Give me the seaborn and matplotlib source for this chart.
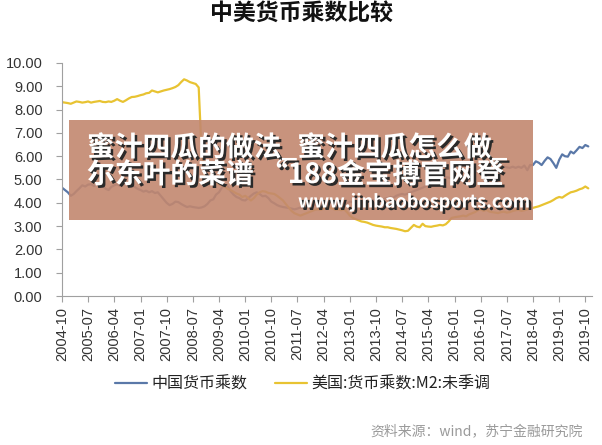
import numpy as np
import pandas as pd
import matplotlib.pyplot as plt
import seaborn as sns
from matplotlib import patheffects as pe
from matplotlib.patches import Rectangle

# monthly data, 2004-10 .. 2019-11
dates = pd.date_range('2004-10-01', periods=182, freq='MS')

china = [4.65, 4.55, 4.45, 4.30, 4.38, 4.50, 4.62, 4.75, 4.70, 4.78, 4.80, 4.72,
         4.80, 4.85, 4.75, 4.60, 4.55, 4.68, 4.75, 4.80, 4.72, 4.85, 4.78, 4.70,
         4.75, 4.68, 4.60, 4.55, 4.48, 4.52, 4.45, 4.50, 4.42, 4.45, 4.30, 4.15,
         4.00, 3.90, 3.95, 4.05, 4.03, 3.95, 3.88, 3.82, 3.85, 3.82, 3.80, 3.78,
         3.80, 3.85, 3.95, 4.10, 4.15, 4.35, 4.45, 4.65, 4.75, 4.70, 4.50, 4.35,
         4.25, 4.20, 4.12, 4.10, 4.20, 4.30, 4.40, 4.45, 4.38, 4.28, 4.30, 4.20,
         4.05, 3.98, 3.90, 3.85, 3.82, 3.80, 3.78, 3.75, 3.72, 3.75, 3.80, 3.78,
         3.85, 3.88, 3.92, 3.90, 3.95, 4.00, 4.02, 3.98, 4.05, 4.00, 3.98, 4.05,
         4.00, 3.95, 3.98, 4.05, 4.02, 4.10, 4.05, 4.00, 4.05, 4.10, 4.08, 4.12,
         4.10, 4.15, 4.12, 4.18, 4.20, 4.25, 4.22, 4.30, 4.35, 4.38, 4.35, 4.40,
         4.45, 4.50, 4.55, 4.60, 4.65, 4.70, 4.78, 4.85, 4.90, 4.95, 4.98, 5.05,
         5.10, 5.08, 5.05, 5.00, 5.05, 5.10, 5.15, 5.12, 5.18, 5.22, 5.30, 5.35,
         5.40, 5.38, 5.45, 5.50, 5.45, 5.48, 5.52, 5.50, 5.55, 5.52, 5.50, 5.55,
         5.50, 5.55, 5.50, 5.60, 5.40, 5.62, 5.62, 5.78, 5.72, 5.62, 5.80, 5.95,
         5.88, 5.70, 5.50, 5.85, 6.08, 6.00, 5.98, 6.20, 6.12, 6.25, 6.40, 6.35,
         6.48, 6.42]

usa = [8.32, 8.30, 8.28, 8.25, 8.30, 8.35, 8.33, 8.30, 8.32, 8.35, 8.30, 8.33,
       8.35, 8.37, 8.33, 8.32, 8.35, 8.33, 8.38, 8.45, 8.38, 8.33, 8.40, 8.48,
       8.54, 8.55, 8.58, 8.62, 8.65, 8.70, 8.72, 8.82, 8.78, 8.74, 8.78, 8.82,
       8.85, 8.88, 8.92, 8.97, 9.05, 9.18, 9.30, 9.25, 9.18, 9.14, 9.10, 8.95,
       6.20, 4.95, 4.85, 4.80, 4.85, 4.90, 4.80, 4.75, 4.70, 4.60, 4.55, 4.47,
       4.40, 4.35, 4.25, 4.30, 4.20, 4.10, 4.20, 4.35, 4.45, 4.50, 4.48, 4.42,
       4.40, 4.38, 4.30, 4.20, 4.10, 3.95, 3.80, 3.65, 3.55, 3.50, 3.45, 3.50,
       3.55, 3.60, 3.65, 3.70, 3.72, 3.70, 3.75, 3.78, 3.80, 3.75, 3.70, 3.72,
       3.68, 3.72, 3.60, 3.45, 3.35, 3.30, 3.25, 3.20, 3.18, 3.15, 3.10, 3.05,
       3.02, 3.00, 2.98, 2.95, 2.95, 2.92, 2.90, 2.88, 2.85, 2.82, 2.78, 2.80,
       2.92, 3.05, 2.98, 2.95, 3.10, 3.00, 2.98, 2.97, 3.00, 3.02, 3.05, 3.03,
       3.08, 3.20, 3.35, 3.38, 3.40, 3.42, 3.45, 3.42, 3.50, 3.55, 3.60, 3.68,
       3.72, 3.65, 3.70, 3.62, 3.60, 3.58, 3.56, 3.60, 3.62, 3.58, 3.60, 3.65,
       3.68, 3.70, 3.65, 3.68, 3.72, 3.75, 3.78, 3.82, 3.85, 3.90, 3.95, 4.00,
       4.05, 4.12, 4.20, 4.25, 4.22, 4.30, 4.38, 4.45, 4.48, 4.52, 4.58, 4.62,
       4.70, 4.62]

labels = ['中国货币乘数', '美国:货币乘数:M2:未季调']
colors = ['#5a78a8', '#e8c332']
xticks = pd.date_range('2004-10-01', '2019-10-01', freq='9MS')
yticks = np.arange(0, 11, 1)

sns.set_style('white')
plt.rcParams['font.family'] = ['Liberation Sans', 'Noto Sans CJK SC']

W, H = 602, 445
fig = plt.figure(figsize=(W / 100, H / 100), dpi=100)
ax = fig.add_axes([62 / W, 1 - 296 / H, (592 - 62) / W, (296 - 63) / H])

sns.lineplot(x=dates, y=china, ax=ax, color=colors[0], lw=1.6, label=labels[0])
sns.lineplot(x=dates, y=usa, ax=ax, color=colors[1], lw=1.6, label=labels[1])

ax.set_ylim(0, 10)
ax.set_xlim(pd.Timestamp('2004-10-01'), pd.Timestamp('2019-12-10'))
ax.set_yticks(yticks)
ax.set_yticklabels([f'{v:.2f}' for v in yticks])
ax.set_xticks(xticks)
ax.set_xticklabels([d.strftime('%Y-%m') for d in xticks], rotation=90)
ax.tick_params(axis='y', length=4, width=0.8, color='#a0a0a0', pad=10,
               labelsize=10.5, labelcolor='#333333', left=True)
ax.tick_params(axis='x', length=4, width=0.8, color='#a0a0a0', pad=4,
               labelsize=10.5, labelcolor='#333333', bottom=True)
for s in ['top', 'right']:
    ax.spines[s].set_visible(False)
for s in ['left', 'bottom']:
    ax.spines[s].set_color('#a0a0a0')
    ax.spines[s].set_linewidth(0.8)
ax.set_xlabel('')
ax.set_ylabel('')

handles, labs = ax.get_legend_handles_labels()
ax.get_legend().remove()
fig.legend(handles, labs, loc='center', bbox_to_anchor=(303 / W, 1 - 384 / H),
           ncol=2, frameon=False, handlelength=2.0, handletextpad=0.3,
           columnspacing=1.7, prop={'family': 'Noto Sans CJK SC', 'size': 11.5},
           labelcolor='#222222')

fig.text(0.5, 1 - 14 / H, '中美货币乘数比较', ha='center', va='center',
         fontsize=16.5, fontweight='bold', family='Noto Sans CJK SC', color='#111111')
fig.text(583 / W, 1 - 432 / H, '资料来源：wind，苏宁金融研究院', ha='right', va='center',
         fontsize=10, family='Noto Sans CJK SC', color='#9a9a9a', style='italic')

# watermark overlay
fig.add_artist(Rectangle((69 / W, 1 - 220 / H), (533 - 69) / W, 100 / H,
                         transform=fig.transFigure, facecolor='#c2876f',
                         alpha=0.9, edgecolor='none', zorder=2))
shadow = [pe.SimplePatchShadow(offset=(1.8, -1.8), shadow_rgbFace='#2a2a2a', alpha=1.0),
          pe.Normal()]
fig.text(87 / W, 1 - 148 / H, '蜜汁四瓜的做法_蜜汁四瓜怎么做_', ha='left', va='center',
         fontsize=20, fontweight='black', family='Noto Sans CJK SC', color='white',
         path_effects=shadow, zorder=3)
fig.text(87 / W, 1 - 175 / H, '尔东叶的菜谱 “188金宝搏官网登', ha='left', va='center',
         fontsize=20, fontweight='black', family='Noto Sans CJK SC', color='white',
         path_effects=shadow, zorder=3)
fig.text(298 / W, 1 - 202 / H, 'www.jinbaobosports.com', ha='left', va='center',
         fontsize=13, fontweight='bold', family='Noto Sans CJK SC', color='white',
         path_effects=shadow, zorder=3)

fig.savefig('out.png', dpi=100)
